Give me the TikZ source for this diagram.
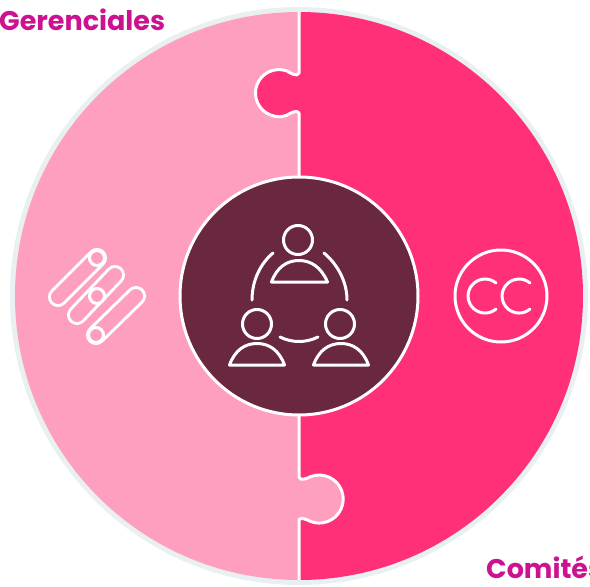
\documentclass[tikz,border=0pt]{standalone}
\usepackage{fontspec}
\setmainfont{Poppins}
\definecolor{ringc}{HTML}{E9F0F1}
\definecolor{lightp}{HTML}{FF9FC0}
\definecolor{hotp}{HTML}{FF2F79}
\definecolor{plum}{HTML}{6A2740}
\definecolor{titlec}{HTML}{CC1290}
\tikzset{
  icon/.style={draw=white,line width=3pt,line cap=round,line join=round},
  title/.style={text=titlec,font=\bfseries\fontsize{27}{28}\selectfont,inner sep=0pt,anchor=base west},
}
\newcommand{\pill}[4]{%
  \draw[white,line width=20pt,line cap=round] (#1,#2) -- (#3,#4);
  \draw[lightp,line width=14pt,line cap=round] (#1,#2) -- (#3,#4);}
\begin{document}
\begin{tikzpicture}[x=1pt,y=-1pt]
\useasboundingbox (0,0) rectangle (590,587);
\clip (0,0) rectangle (590,587);
\fill[white] (0,0) rectangle (590,587);
% outer disc
\fill[ringc] (299,296) circle (289);
% left half
\fill[lightp] (299,12) arc (90:270:284pt) -- cycle;
% right half
\fill[hotp] (299,12) arc (90:-90:284pt) -- cycle;
% top knob
\fill[hotp] (300,73) .. controls (297,77) and (292,74) .. (287,71)
  arc (70:290:23.5pt) .. controls (292,112) and (297,110) .. (300,113) -- cycle;
% bottom knob
\fill[lightp] (298,477) .. controls (300,481) and (306,479) .. (311,476.5)
  arc (110:-110:24pt) .. controls (306,519) and (300,517) .. (298,520) -- cycle;
% seam
\draw[white,line width=3pt,line join=round] (299,12) -- (299,73)
  .. controls (297,77) and (292,74) .. (287,71)
  arc (70:290:23.5pt) .. controls (292,112) and (297,110) .. (299,113) -- (299,477)
  .. controls (300,481) and (306,479) .. (311,476.5)
  arc (110:-110:24pt) .. controls (306,519) and (300,517) .. (299,520) -- (299,580);
% centre
\fill[plum] (299,296) circle (118);
\draw[white,line width=3pt] (299,296) circle (119);
% left icon
\pill{58}{297}{97}{258}
\pill{77}{315}{115}{275}
\pill{96}{335}{136}{296}
\draw[icon,fill=lightp] (97,258) circle (7.5);
\draw[icon,fill=lightp] (97,296) circle (7.5);
\draw[icon,fill=lightp] (96,335) circle (7.5);
% CC icon
\draw[white,line width=3pt] (501,296) circle (46);
\draw[icon] (496,283) arc (50:310:17pt);
\draw[icon] (530,283) arc (50:310:17pt);
% people icon
\draw[icon] (298,240) circle (14.5);
\draw[icon] (257,324) circle (14.5);
\draw[icon] (340,324) circle (14.5);
\draw[icon] (271.5,282) .. controls (277,267) and (287,260.5) .. (299,260.5)
  .. controls (311,260.5) and (321,267) .. (327.5,282) -- cycle;
\draw[icon] (229.5,365) .. controls (235,350) and (245,343.5) .. (257,343.5)
  .. controls (269,343.5) and (279,350) .. (284.5,365) -- cycle;
\draw[icon] (313.5,365) .. controls (319,350) and (329,343.5) .. (341,343.5)
  .. controls (353,343.5) and (363,350) .. (368.5,365) -- cycle;
\draw[icon] (273,253) .. controls (261,263) and (252,280) .. (252,300);
\draw[icon] (324,253) .. controls (336,263) and (347,280) .. (347,300);
\draw[icon] (280,337) .. controls (292,343) and (306,343) .. (318,337);
% titles
\node[title] (gerenciales) at (-1,30) {Gerenciales};
\node[title] (comites) at (486,578) {Comités};
\end{tikzpicture}
\end{document}
